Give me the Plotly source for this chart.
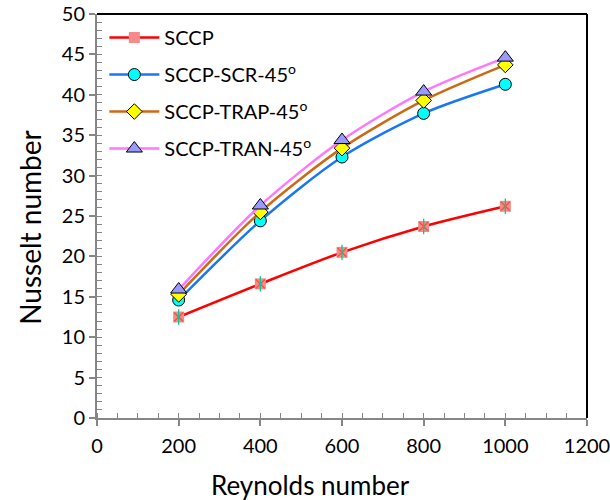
import plotly.graph_objects as go

# Reynolds number values and Nusselt number results for each configuration
reynolds = [200, 400, 600, 800, 1000]
nu_sccp = [12.5, 16.6, 20.5, 23.7, 26.2]
nu_scr = [14.6, 24.4, 32.3, 37.7, 41.3]
nu_trap = [15.3, 25.5, 33.4, 39.3, 43.7]
nu_tran = [15.9, 26.3, 34.4, 40.4, 44.6]

series_names = ["SCCP", "SCCP-SCR-45<sup>o</sup>", "SCCP-TRAP-45<sup>o</sup>", "SCCP-TRAN-45<sup>o</sup>"]
x_ticks = [0, 200, 400, 600, 800, 1000, 1200]
y_ticks = [0, 5, 10, 15, 20, 25, 30, 35, 40, 45, 50]

FONT = "Lato, 'Open Sans', sans-serif"
AXIS_GREY = "#868686"

fig = go.Figure()

# SCCP: pink square with a black star drawn on top
fig.add_trace(go.Scatter(
    x=reynolds, y=nu_sccp, name=series_names[0], mode="lines+markers", legendgroup="a",
    line=dict(color="#FF0000", width=2.5, shape="spline", smoothing=0.8),
    marker=dict(symbol="square", size=11, color="#F58A8A", line=dict(width=0)),
))
fig.add_trace(go.Scatter(
    x=reynolds, y=nu_sccp, mode="markers", showlegend=False, hoverinfo="skip", legendgroup="a",
    marker=dict(symbol="x-thin-open", size=9, line=dict(color="black", width=1.3)),
))
fig.add_trace(go.Scatter(
    x=reynolds, y=nu_sccp, mode="markers", showlegend=False, hoverinfo="skip", legendgroup="a",
    marker=dict(symbol="line-ns-open", size=11, line=dict(color="black", width=1.3)),
))

fig.add_trace(go.Scatter(
    x=reynolds, y=nu_scr, name=series_names[1], mode="lines+markers", legendgroup="b",
    line=dict(color="#1877F2", width=2.5, shape="spline", smoothing=0.8),
    marker=dict(symbol="circle", size=12, color="#00FFFF", line=dict(color="black", width=1)),
))
fig.add_trace(go.Scatter(
    x=reynolds, y=nu_trap, name=series_names[2], mode="lines+markers", legendgroup="c",
    line=dict(color="#CC6A14", width=2.5, shape="spline", smoothing=0.8),
    marker=dict(symbol="diamond", size=12, color="#FFFF00", line=dict(color="black", width=1)),
))
fig.add_trace(go.Scatter(
    x=reynolds, y=nu_tran, name=series_names[3], mode="lines+markers", legendgroup="d",
    line=dict(color="#FF77FF", width=2.5, shape="spline", smoothing=0.8),
    marker=dict(symbol="triangle-up", size=14, color="#9999FF", line=dict(color="black", width=1)),
))

fig.update_layout(
    width=610, height=500,
    margin=dict(l=97, r=23, t=14, b=82),
    paper_bgcolor="white", plot_bgcolor="white",
    font=dict(family=FONT, color="black", size=20),
    showlegend=True,
    legend=dict(
        x=0.015, y=0.99, xanchor="left", yanchor="top",
        bgcolor="rgba(255,255,255,0)", font=dict(size=20, family=FONT),
        tracegroupgap=8, itemwidth=50,
    ),
    xaxis=dict(
        range=[0, 1200], tickvals=x_ticks, showgrid=False, zeroline=False,
        automargin=False, ticklabeloverflow="allow",
        showline=True, linecolor=AXIS_GREY, linewidth=2,
        ticks="outside", ticklen=6, tickwidth=2, tickcolor=AXIS_GREY,
        minor=dict(dtick=50, ticks="inside", ticklen=5, tickwidth=1, tickcolor=AXIS_GREY),
        tickfont=dict(size=20), ticklabelstandoff=3,
    ),
    yaxis=dict(
        range=[0, 50], tickvals=y_ticks, showgrid=False, zeroline=False,
        automargin=False,
        showline=True, linecolor=AXIS_GREY, linewidth=2,
        ticks="outside", ticklen=6, tickwidth=2, tickcolor=AXIS_GREY,
        minor=dict(dtick=1, ticks="inside", ticklen=5, tickwidth=1, tickcolor=AXIS_GREY),
        tickfont=dict(size=20),
    ),
)

# axis titles, placed relative to the whole chart area
fig.add_annotation(text="Reynolds number", xref="paper", yref="paper",
                   x=0.435, y=-0.166, xanchor="center", yanchor="middle",
                   showarrow=False, font=dict(size=26, family=FONT))
fig.add_annotation(text="Nusselt number", xref="paper", yref="paper",
                   x=-0.137, y=0.473, xanchor="center", yanchor="middle", textangle=-90,
                   showarrow=False, font=dict(size=28, family=FONT))

# black frame along the top and right of the plotting area
fig.add_shape(type="line", xref="paper", yref="paper", x0=0, x1=1, y0=1, y1=1,
              line=dict(color="black", width=2))
fig.add_shape(type="line", xref="paper", yref="paper", x0=1, x1=1, y0=0, y1=1,
              line=dict(color="black", width=2))

fig.write_html("out.html")
